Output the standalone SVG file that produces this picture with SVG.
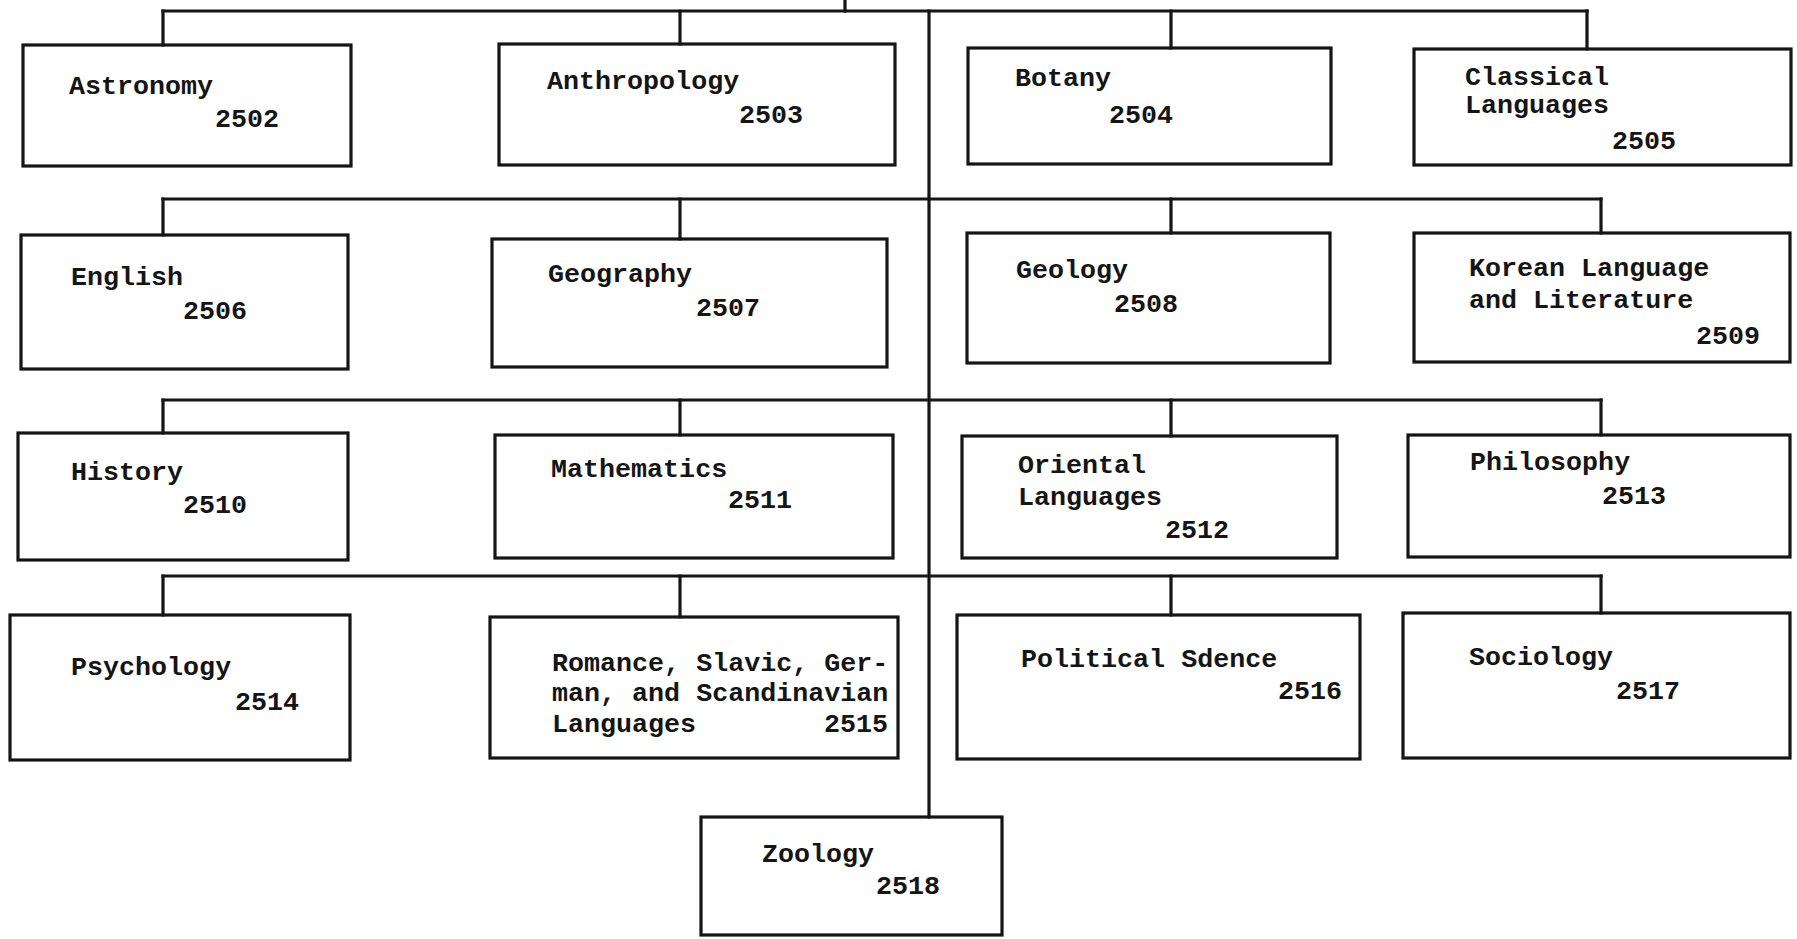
<svg xmlns="http://www.w3.org/2000/svg" width="1797" height="939" viewBox="0 0 1797 939">
  <style>
    .box { fill: none; stroke: #151515; stroke-width: 3.2; }
    .wire { fill: none; stroke: #151515; stroke-width: 3.2; stroke-linecap: square; }
    .t { font-family: "Liberation Mono", "Courier New", monospace; font-size: 26.7px; fill: #151515; font-weight: bold; }
    .r { text-anchor: end; }
  </style>
  <rect width="1797" height="939" fill="#ffffff"/>

  <!-- connectors: trunk, branch bars and drops -->
  <g id="connectors">
    <path class="wire" d="M845 0 V11"/>
    <path class="wire" d="M929 11 V817"/>
    <!-- row 1 -->
    <path class="wire" d="M163 11 H1587"/>
    <path class="wire" d="M163 11 V45 M680 11 V44 M1171 11 V48 M1587 11 V49"/>
    <!-- row 2 -->
    <path class="wire" d="M163 199 H1601"/>
    <path class="wire" d="M163 199 V235 M680 199 V239 M1171 199 V233 M1601 199 V233"/>
    <!-- row 3 -->
    <path class="wire" d="M163 400 H1601"/>
    <path class="wire" d="M163 400 V433 M680 400 V435 M1171 400 V436 M1601 400 V435"/>
    <!-- row 4 -->
    <path class="wire" d="M163 576 H1601"/>
    <path class="wire" d="M163 576 V615 M680 576 V617 M1171 576 V615 M1601 576 V613"/>
  </g>

  <!-- row 1 -->
  <g id="astronomy">
    <rect class="box" x="23" y="45" width="328" height="121"/>
    <text class="t" x="69" y="94">Astronomy</text>
    <text class="t" x="215" y="127">2502</text>
  </g>
  <g id="anthropology">
    <rect class="box" x="499" y="44" width="396" height="121"/>
    <text class="t" x="547" y="89">Anthropology</text>
    <text class="t" x="739" y="123">2503</text>
  </g>
  <g id="botany">
    <rect class="box" x="968" y="48" width="363" height="116"/>
    <text class="t" x="1015" y="86">Botany</text>
    <text class="t" x="1109" y="123">2504</text>
  </g>
  <g id="classical-languages">
    <rect class="box" x="1414" y="49" width="377" height="116"/>
    <text class="t" x="1465" y="85">Classical</text>
    <text class="t" x="1465" y="113">Languages</text>
    <text class="t" x="1612" y="149">2505</text>
  </g>

  <!-- row 2 -->
  <g id="english">
    <rect class="box" x="21" y="235" width="327" height="134"/>
    <text class="t" x="71" y="285">English</text>
    <text class="t" x="183" y="319">2506</text>
  </g>
  <g id="geography">
    <rect class="box" x="492" y="239" width="395" height="128"/>
    <text class="t" x="548" y="282">Geography</text>
    <text class="t" x="696" y="316">2507</text>
  </g>
  <g id="geology">
    <rect class="box" x="967" y="233" width="363" height="130"/>
    <text class="t" x="1016" y="278">Geology</text>
    <text class="t" x="1114" y="312">2508</text>
  </g>
  <g id="korean-language-and-literature">
    <rect class="box" x="1414" y="233" width="376" height="129"/>
    <text class="t" x="1469" y="276">Korean Language</text>
    <text class="t" x="1469" y="308">and Literature</text>
    <text class="t" x="1696" y="344">2509</text>
  </g>

  <!-- row 3 -->
  <g id="history">
    <rect class="box" x="18" y="433" width="330" height="127"/>
    <text class="t" x="71" y="480">History</text>
    <text class="t" x="183" y="513">2510</text>
  </g>
  <g id="mathematics">
    <rect class="box" x="495" y="435" width="398" height="123"/>
    <text class="t" x="551" y="477">Mathematics</text>
    <text class="t" x="728" y="508">2511</text>
  </g>
  <g id="oriental-languages">
    <rect class="box" x="962" y="436" width="375" height="122"/>
    <text class="t" x="1018" y="473">Oriental</text>
    <text class="t" x="1018" y="505">Languages</text>
    <text class="t" x="1165" y="538">2512</text>
  </g>
  <g id="philosophy">
    <rect class="box" x="1408" y="435" width="382" height="122"/>
    <text class="t" x="1470" y="470">Philosophy</text>
    <text class="t" x="1602" y="504">2513</text>
  </g>

  <!-- row 4 -->
  <g id="psychology">
    <rect class="box" x="10" y="615" width="340" height="145"/>
    <text class="t" x="71" y="675">Psychology</text>
    <text class="t" x="235" y="710">2514</text>
  </g>
  <g id="romance-slavic-german-scandinavian">
    <rect class="box" x="490" y="617" width="408" height="141"/>
    <text class="t" x="552" y="671">Romance, Slavic, Ger-</text>
    <text class="t" x="552" y="701">man, and Scandinavian</text>
    <text class="t" x="552" y="732">Languages</text>
    <text class="t r" x="888" y="732">2515</text>
  </g>
  <g id="political-science">
    <rect class="box" x="957" y="615" width="403" height="144"/>
    <text class="t" x="1021" y="667">Political Sdence</text>
    <text class="t" x="1278" y="699">2516</text>
  </g>
  <g id="sociology">
    <rect class="box" x="1403" y="613" width="387" height="145"/>
    <text class="t" x="1469" y="665">Sociology</text>
    <text class="t" x="1616" y="699">2517</text>
  </g>

  <!-- bottom -->
  <g id="zoology">
    <rect class="box" x="701" y="817" width="301" height="118"/>
    <text class="t" x="762" y="862">Zoology</text>
    <text class="t" x="876" y="894">2518</text>
  </g>
</svg>
